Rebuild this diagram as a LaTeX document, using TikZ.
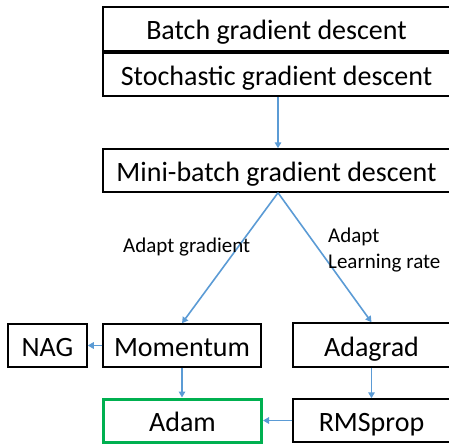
\documentclass[tikz,border=0pt]{standalone}
\usepackage{fontspec}
\setmainfont{Carlito}
\usetikzlibrary{arrows.meta,positioning}
\definecolor{flowblue}{RGB}{91,155,213}
\definecolor{adamgreen}{RGB}{0,176,80}

\begin{document}
\begin{tikzpicture}[x=1pt,y=-1pt,
    box/.style={draw=black, line width=1.5pt, inner sep=0pt, minimum height=43pt, text height=22pt, text depth=0pt, font=\fontsize{28}{32}\selectfont},
    flow/.style={draw=flowblue, line width=1.6pt, -{Triangle[length=6pt,width=6.5pt]}},
    lbl/.style={font=\fontsize{21}{26}\selectfont, inner sep=0pt}]
  \useasboundingbox (0,0) rectangle (449,444);
  \clip (0,0) rectangle (449,444);
  % --- gradient descent variants
  \node[box, minimum width=347pt, minimum height=44pt] (batch) at (276.5,29) {Batch gradient descent};
  \node[box, minimum width=347pt] (sgd) at (276.5,74.5) {Stochastic gradient descent};
  \node[box, minimum width=347pt] (minibatch) at (276.5,170.5) {Mini-batch gradient descent};
  \draw[flow] (sgd.south -| 278,0) -- (minibatch.north -| 278,0);
  % --- optimizers
  \node[box, minimum width=158pt] (momentum) at (182,345.5) {Momentum};
  \node[box, minimum width=79pt] (nag) at (47.5,345.5) {NAG};
  \node[box, minimum width=157pt, minimum height=44pt] (adagrad) at (371.5,345) {Adagrad};
  \node[box, minimum width=157pt] (rmsprop) at (371.5,420.5) {RMSprop};
  \node[box, draw=adamgreen, line width=3pt, minimum width=158pt] (adam) at (182.5,420.5) {Adam};
  \draw[flow] (minibatch.south -| 278,0) -- (momentum.north);
  \draw[flow] (minibatch.south -| 278,0) -- (adagrad.north);
  \draw[flow] (momentum.west) -- (nag.east);
  \draw[flow] (momentum.south) -- (adam.north -| momentum.south);
  \draw[flow] (adagrad.south) -- (rmsprop.north);
  \draw[flow] (rmsprop.west) -- (adam.east);
  % --- branch labels
  \node[lbl, anchor=west] (gradlbl) at (123,247) {Adapt gradient};
  \node[lbl, anchor=west, align=left] (ratelbl) at (328,250) {Adapt\\Learning rate};
\end{tikzpicture}
\end{document}
